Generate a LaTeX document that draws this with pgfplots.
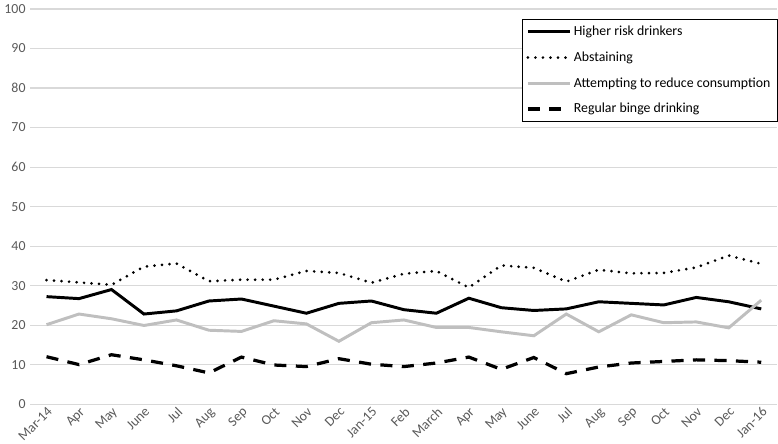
\documentclass[border=0pt]{standalone}
\usepackage{pgfplots}
\pgfplotsset{compat=1.18}
\usepackage{fontspec}
\setmainfont{Carlito}
\definecolor{gridc}{RGB}{217,217,217}
\definecolor{tickc}{RGB}{89,89,89}
\definecolor{grayline}{RGB}{191,191,191}
\begin{document}
\begin{tikzpicture}
\begin{axis}[
  scale only axis,
  width=556pt, height=294pt,
  xmin=-0.5, xmax=22.5, ymin=0, ymax=100,
  ytick={0,10,...,100},
  xtick={0,...,22},
  xticklabels={Mar-14,Apr,May,June,Jul,Aug,Sep,Oct,Nov,Dec,Jan-15,Feb,March,Apr,May,June,Jul,Aug,Sep,Oct,Nov,Dec,Jan-16},
  x tick label style={rotate=45, anchor=north east, inner sep=1pt, font=\fontsize{10.3}{12}\selectfont, text=tickc},
  y tick label style={font=\fontsize{10.3}{12}\selectfont, text=tickc},
  /pgf/number format/assume math mode=true,
  ymajorgrids, grid style={gridc, line width=0.8pt},
  axis line style={draw=none},
  major tick length=0pt,
  legend style={at={(1.0,0.975)}, anchor=north east, draw=black, line width=0.6pt,
    font=\fontsize{10.3}{12}\selectfont, row sep=6.5pt, inner xsep=3pt, inner ysep=3pt,
    cells={anchor=west}},
  legend image code/.code={\draw[#1] (0cm,0cm) -- (31pt,0cm);},
]
\addplot[black, line width=2.2pt] coordinates {
(0,27.2)(1,26.7)(2,29.0)(3,22.8)(4,23.6)(5,26.1)(6,26.6)(7,24.8)(8,23.0)(9,25.5)(10,26.1)(11,23.9)(12,23.0)(13,26.8)(14,24.4)(15,23.7)(16,24.1)(17,25.9)(18,25.5)(19,25.1)(20,27.0)(21,25.9)(22,24.1)};
\addlegendentry{Higher risk drinkers}
\addplot[black, line width=2.2pt, line cap=round, dash pattern=on 0pt off 5.6pt] coordinates {
(0,31.4)(1,30.8)(2,30.2)(3,34.8)(4,35.6)(5,31.1)(6,31.5)(7,31.5)(8,33.7)(9,33.2)(10,30.7)(11,33.0)(12,33.7)(13,29.5)(14,35.1)(15,34.5)(16,31.0)(17,34.0)(18,33.1)(19,33.2)(20,34.6)(21,37.6)(22,35.5)};
\addlegendentry{Abstaining}
\addplot[grayline, line width=2.2pt] coordinates {
(0,20.1)(1,22.8)(2,21.6)(3,19.9)(4,21.3)(5,18.7)(6,18.4)(7,21.1)(8,20.3)(9,15.9)(10,20.6)(11,21.3)(12,19.4)(13,19.4)(14,18.3)(15,17.3)(16,22.8)(17,18.3)(18,22.6)(19,20.6)(20,20.8)(21,19.3)(22,26.3)};
\addlegendentry{Attempting to reduce consumption}
\addplot[black, line width=2.4pt, dash pattern=on 9pt off 7pt] coordinates {
(0,12.0)(1,10.0)(2,12.5)(3,11.2)(4,9.7)(5,7.9)(6,11.9)(7,9.9)(8,9.5)(9,11.5)(10,10.1)(11,9.5)(12,10.4)(13,11.9)(14,8.8)(15,11.8)(16,7.7)(17,9.4)(18,10.4)(19,10.8)(20,11.2)(21,11.0)(22,10.6)};
\addlegendentry{Regular binge drinking}
\end{axis}
\end{tikzpicture}
\end{document}
